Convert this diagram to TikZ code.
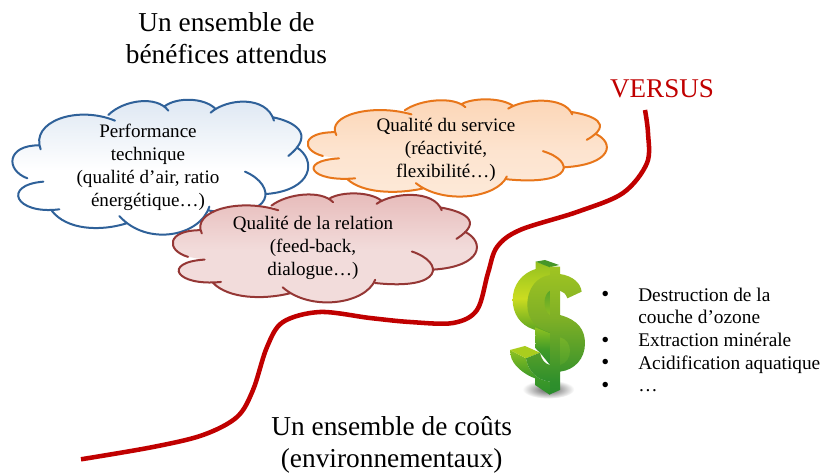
\documentclass[tikz,border=0pt]{standalone}
\usepackage{fontspec}
\setmainfont{Liberation Serif}
\definecolor{bluel}{HTML}{2F6199}
\definecolor{bluef}{HTML}{DCE6F2}
\definecolor{pinkl}{HTML}{953735}
\definecolor{pinkt}{HTML}{E6B9B8}
\definecolor{pinkb}{HTML}{F2DCDB}
\definecolor{orl}{HTML}{E8761A}
\definecolor{ort}{HTML}{FCD5B5}
\definecolor{orb}{HTML}{FDEADA}
\definecolor{redc}{HTML}{C00000}
\definecolor{ga}{HTML}{0C7A30}
\definecolor{gb}{HTML}{2F8F2C}
\definecolor{gc}{HTML}{7FB026}
\definecolor{gd}{HTML}{A0C422}
\definecolor{ge}{HTML}{A4C820}
\definecolor{gf}{HTML}{2A8A28}
\definecolor{gg}{HTML}{4F9E22}
\definecolor{gh}{HTML}{CBDC20}
\definecolor{gi}{HTML}{B0D020}
\definecolor{gj}{HTML}{5F9F1E}
\definecolor{gk}{HTML}{178030}
\definecolor{gl}{HTML}{3E9A28}
\definecolor{gm}{HTML}{9CC820}
\definecolor{gn}{HTML}{C0D820}
\definecolor{go}{HTML}{A8C820}
\definecolor{gp}{HTML}{3F9A2A}
\definecolor{gq}{HTML}{3C962C}
\definecolor{gr}{HTML}{8ABB28}
\definecolor{gs}{HTML}{AACD1E}
\definecolor{gt}{HTML}{469628}
\pgfdeclareverticalshading{dfront}{100bp}{color(0bp)=(ga);color(30bp)=(gb);color(55bp)=(gc);color(75bp)=(gd);color(100bp)=(ge)}
\pgfdeclareverticalshading{dback}{100bp}{color(0bp)=(gf);color(25bp)=(gg);color(50bp)=(gh);color(62bp)=(gi);color(100bp)=(gj)}
\pgfdeclareverticalshading{dlow}{100bp}{color(0bp)=(gk);color(45bp)=(gl);color(80bp)=(gm);color(100bp)=(gn)}
\pgfdeclareverticalshading{dhole}{100bp}{color(0bp)=(go);color(100bp)=(gp)}
\pgfdeclareverticalshading{dhole2}{100bp}{color(0bp)=(gq);color(100bp)=(gr)}
\newcommand\cloudpath[1]{(122,178) .. controls (90,95) and (230,45) .. (345,92) #1
 (325,75) .. controls (370,30) and (470,15) .. (505,62) #1
 (495,48) .. controls (530,22) and (610,22) .. (645,55) #1
 (632,68) .. controls (680,25) and (800,15) .. (822,92) #1
 (820,82) .. controls (880,95) and (950,130) .. (865,198) #1
 (890,172) .. controls (950,210) and (940,300) .. (800,312) #1
 (735,245) .. controls (830,285) and (830,390) .. (628,362) #1
 (628,350) .. controls (600,440) and (440,470) .. (358,378) #1
 (380,400) .. controls (300,425) and (200,420) .. (155,362) #1
 (178,358) .. controls (45,375) and (5,285) .. (130,275) #1
 (82,265) .. controls (15,240) and (20,165) .. (118,166)}
\newcommand\cloudshape[6]{%
 \begin{scope}[shift={(#1,#2)},xscale=#3,yscale=#4]
  \path[#5] \cloudpath{--} -- cycle;
  \draw[#6,line width=1.5pt,line cap=round] \cloudpath{};
 \end{scope}}
\tikzset{
 cloudtxt/.style={inner sep=0pt,align=center,font=\fontsize{14.3}{17.2}\selectfont,text=black},
 bigtxt/.style={inner sep=0pt,align=center,font=\fontsize{20.5}{24}\selectfont,text=black},
 listtxt/.style={inner sep=0pt,align=left,font=\fontsize{14.5}{17}\selectfont,text=black,anchor=north west},
}
\begin{document}
\begin{tikzpicture}[x=0.75pt,y=-0.75pt]
\useasboundingbox (0,0) rectangle (820,473);
% clouds
\cloudshape{295.2}{92.3}{0.337}{0.2403}{top color=ort,bottom color=orb,middle color=orb!70!ort}{orl}
\cloudshape{0}{90}{0.3333}{0.3333}{top color=bluef,bottom color=white,middle color=white}{bluel}
\cloudshape{160}{185.5}{0.3427}{0.2694}{top color=pinkt,bottom color=pinkb,middle color=pinkb}{pinkl}
\node[cloudtxt] (perf) at (148,167) {Performance\\technique\\(qualité d’air, ratio\\énergétique…)};
\node[cloudtxt] (serv) at (446,149.5) {Qualité du service\\(réactivité,\\flexibilité…)};
\node[cloudtxt] (rel) at (313,247.5) {Qualité de la relation\\(feed-back,\\dialogue…)};
% titles
\node[bigtxt] (top) at (226.5,38) {Un ensemble de\\bénéfices attendus};
\node[bigtxt] (bot) at (391.7,444.5) {Un ensemble de coûts\\(environnementaux)};
\node[inner sep=0pt,text=redc,font=\fontsize{20.3}{24}\selectfont] (vs) at (662,89) {VERSUS};
% red curve
\draw[redc,line width=3.4pt] plot[smooth,tension=0.55] coordinates {(81,459.3) (153,447) (203,435) (237,417) (253,390) (267,347) (283,322) (320,312) (370,318) (410,322) (453,323) (477,310) (488,273) (497,247) (520,230) (577,212) (623,193) (647,163) (648,133) (645,110)};
% dollar
\begin{scope}[shift={(490,250)},scale=0.3333]
 \path[inner color=black!65,outer color=white] (175,418) ellipse [x radius=78,y radius=28];
 \path[shading=dback] (137,35) -- (137,57) .. controls (95,70) and (68,105) .. (68,150) .. controls (68,190) and (90,225) .. (130,238) -- (180,255) -- (180,50) -- cycle;
 \path[shading=dlow] (135,232) -- (180,250) -- (180,345) -- (150,308) -- (137,296) -- cycle;
 \path[shading=dlow] (60,300) -- (108,325) .. controls (115,365) and (140,390) .. (180,395) -- (180,435) -- (135,405) -- (135,385) .. controls (105,375) and (65,345) .. (62,315) -- cycle;
 \path[fill=gs] (60,300) -- (105,288) -- (150,308) -- (108,325) -- cycle;
 \path[fill=gt] (137,35) -- (165,30) -- (207,45) -- (180,52) -- cycle;
 \path[shading=dfront] (180,50) -- (210,50) -- (210,72) .. controls (250,78) and (272,100) .. (275,125) -- (232,145) .. controls (228,132) and (220,125) .. (210,122) -- (210,195) .. controls (265,210) and (285,240) .. (285,280) .. controls (285,325) and (255,360) .. (210,365) -- (210,420) -- (180,433) -- (180,395) .. controls (140,390) and (115,365) .. (108,325) -- (150,308) .. controls (155,330) and (165,342) .. (180,345) -- (180,248) .. controls (140,235) and (112,210) .. (112,165) .. controls (112,115) and (140,80) .. (180,75) -- cycle;
 \path[shading=dhole] (180,122) .. controls (158,135) and (158,180) .. (180,195) -- cycle;
 \path[shading=dhole2] (210,262) .. controls (250,270) and (250,335) .. (210,345) -- cycle;
\end{scope}
% list
\node[listtxt] (items) at (638,287.5) {Destruction de la\\couche d’ozone\\Extraction minérale\\Acidification aquatique\\…};
\node[listtxt,font=\fontsize{17}{17}\selectfont] (bullets) at (601,291.5) {•\\\mbox{}\\•\\•\\•};
\end{tikzpicture}
\end{document}
